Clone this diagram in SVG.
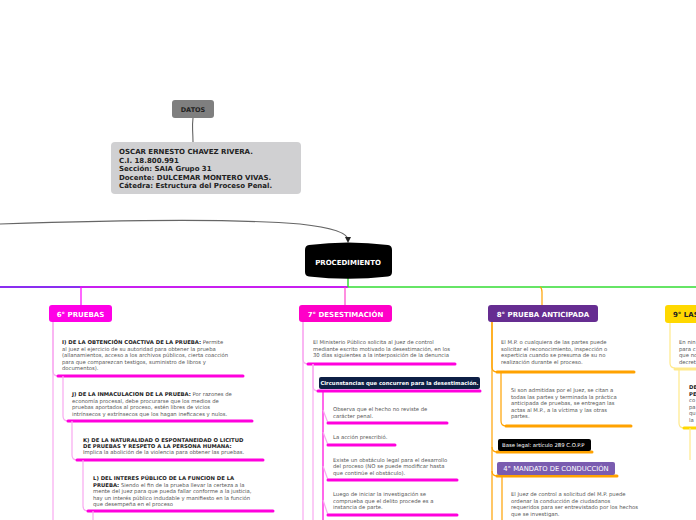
<svg xmlns="http://www.w3.org/2000/svg" width="696" height="520" viewBox="0 0 696 520">
<style>
text{font-family:"DejaVu Sans","Verdana",sans-serif}
.b{font-weight:bold;fill:#222}
.t{font-size:5.3px;fill:#555}
.tb{font-size:5.3px;fill:#222;font-weight:bold}
.hd{font-size:7px;font-weight:bold;fill:#fff}
.ul{fill:none;stroke-width:3;stroke-linecap:round}
.cn{fill:none;stroke-width:1.2}
.pk{stroke:#ff00dd}
.lpk{stroke:#f8a8f0}
.or{stroke:#ffa200}
.yl{stroke:#ffd800}
.lyl{stroke:#ffe98a}
</style>
<defs>
<marker id="arr" markerWidth="6" markerHeight="6" refX="3" refY="3" orient="auto" markerUnits="userSpaceOnUse"><path d="M0,0 L6,3 L0,6 Z" fill="#222"/></marker>
</defs>
<g id="connectors">
<path d="M0,224 C120,220 240,219 300,224 C336,228 348,234 348,240" fill="none" stroke="#666" stroke-width="1.2" marker-end="url(#arr)"/>
<path d="M193,118 C192,126 193,134 193,142" fill="none" stroke="#555" stroke-width="1"/>
<line x1="0" y1="287" x2="80" y2="287" stroke="#8a2ef0" stroke-width="2"/>
<line x1="80" y1="287" x2="348" y2="287" stroke="#c81ff0" stroke-width="2"/>
<line x1="348" y1="287" x2="696" y2="287" stroke="#33dd33" stroke-width="1.5"/>
<line x1="348" y1="278" x2="348" y2="287" stroke="#33dd33" stroke-width="1.5"/>
<line x1="81" y1="287" x2="81" y2="305" stroke="#ff00ff" stroke-width="1.2"/>
<line x1="345" y1="287" x2="345" y2="305" stroke="#ff44cc" stroke-width="1.2"/>
<path d="M540,287 Q542,288 542,292 V305" class="cn or"/>
<path d="M53,322 V520" class="cn lpk"/>
<path d="M53,322 V371 Q53,376 58,376" class="cn lpk"/>
<line x1="58" y1="376" x2="243" y2="376" class="ul pk"/>
<path d="M63,376 V416 Q63,421 68,421" class="cn lpk"/>
<line x1="68" y1="421" x2="252" y2="421" class="ul pk"/>
<path d="M72,421 V455 Q72,460 77,460" class="cn lpk"/>
<line x1="77" y1="460" x2="263" y2="460" class="ul pk"/>
<path d="M83,460 V506 Q83,511 88,511" class="cn lpk"/>
<line x1="88" y1="511" x2="273" y2="511" class="ul pk"/>
<path d="M93,511 V520" class="cn lpk"/>
<path d="M303,322 V520" class="cn lpk"/>
<path d="M303,322 V359 Q303,364 308,364" class="cn lpk"/>
<line x1="308" y1="364" x2="455" y2="364" class="ul pk"/>
<path d="M313,364 V520" class="cn lpk"/>
<path d="M313,364 V386 Q313,391 318,391" class="cn lpk"/>
<line x1="318" y1="391" x2="480" y2="391" class="ul pk"/>
<path d="M323,391 V520" class="cn pk"/>
<path d="M323,410 L328,423" class="cn lpk"/>
<line x1="328" y1="423" x2="447" y2="423" class="ul pk"/>
<path d="M323,432 L328,445" class="cn lpk"/>
<line x1="328" y1="445" x2="395" y2="445" class="ul pk"/>
<path d="M323,466 L328,480" class="cn lpk"/>
<line x1="328" y1="480" x2="457" y2="480" class="ul pk"/>
<path d="M323,500 L328,515" class="cn lpk"/>
<line x1="328" y1="515" x2="457" y2="515" class="ul pk"/>
<path d="M492,322 V520" class="cn or"/>
<path d="M492,322 V367 Q492,372 497,372" class="cn or"/>
<line x1="497" y1="372" x2="634" y2="372" class="ul or"/>
<path d="M501,372 V421 Q501,426 506,426" class="cn or"/>
<line x1="506" y1="426" x2="631" y2="426" class="ul or"/>
<path d="M492,447 Q492,452 497,452" class="cn or"/>
<line x1="497" y1="452" x2="592" y2="452" class="ul or"/>
<path d="M492,471 Q492,476 497,476" class="cn or"/>
<line x1="497" y1="476" x2="617" y2="476" class="ul or"/>
<path d="M502,476 V520" class="cn or"/>
<path d="M670,322 V363 Q670,368 675,368" class="cn lyl"/>
<line x1="675" y1="369" x2="700" y2="369" class="ul lyl" stroke-width="2"/>
<path d="M679,369 V423 Q679,428 684,428" class="cn lyl"/>
<line x1="684" y1="428" x2="700" y2="428" class="ul yl"/>
<path d="M690,428 V460" class="cn lyl"/>
</g>
<g id="datos">
<rect x="172" y="100" width="42" height="18" rx="3" fill="#7f7f7f"/>
<text x="193" y="112" font-size="6.5" class="b" text-anchor="middle">DATOS</text>
</g>
<g id="info">
<rect x="111" y="142" width="190" height="52" rx="4" fill="#d0d0d2"/>
<text x="119" y="154" font-size="7" class="b">OSCAR ERNESTO CHAVEZ RIVERA.</text>
<text x="119" y="162.5" font-size="7" class="b">C.I. 18.800.991</text>
<text x="119" y="171" font-size="7" class="b">Sección: SAIA Grupo 31</text>
<text x="119" y="179.5" font-size="7" class="b">Docente: DULCEMAR MONTERO VIVAS.</text>
<text x="119" y="188" font-size="7" class="b">Cátedra: Estructura del Proceso Penal.</text>
</g>
<g id="procedimiento">
<path d="M309,245 Q348,240 388,245 Q392,245.5 392,250 V272 Q392,276 388,276.5 Q348,281 309,276.5 Q305,276 305,272 V250 Q305,245.5 309,245 Z" fill="#000"/>
<text x="348" y="265" class="hd" font-size="6.8" text-anchor="middle">PROCEDIMIENTO</text>
</g>
<g id="pruebas6">
<rect x="49" y="305" width="63" height="17" rx="3" fill="#ff00e6"/>
<text x="80.5" y="316.5" class="hd" text-anchor="middle">6° PRUEBAS</text>
</g>
<g id="itemI">
<text x="62" y="344" class="t"><tspan class="tb">I) DE LA OBTENCIÓN COACTIVA DE LA PRUEBA:</tspan> Permite</text>
<text x="62" y="350.5" class="t">al juez el ejercicio de su autoridad  para  obtener  la prueba</text>
<text x="62" y="357" class="t">(allanamientos, acceso a los archivos públicos, cierta coacción</text>
<text x="62" y="363.5" class="t">para que comparezcan testigos, suministro de libros y</text>
<text x="62" y="370" class="t">documentos).</text>
</g>
<g id="itemJ">
<text x="72" y="396" class="t"><tspan class="tb">J) DE LA INMACULACION DE LA PRUEBA:</tspan> Por razones de</text>
<text x="72" y="402.5" class="t">economía procesal, debe procurarse que los medios de</text>
<text x="72" y="409" class="t">pruebas aportados al proceso, estén libres de vicios</text>
<text x="72" y="415.5" class="t">intrínsecos y extrínsecos que los hagan ineficaces y nulos.</text>
</g>
<g id="itemK">
<text x="83" y="441.5" class="tb">K) DE LA NATURALIDAD O ESPONTANEIDAD O LICITUD</text>
<text x="83" y="448" class="tb">DE PRUEBAS Y RESPETO A LA PERSONA HUMANA:</text>
<text x="83" y="454" class="t">Implica la abolición de la violencia para obtener las pruebas.</text>
</g>
<g id="itemL">
<text x="93" y="480" class="tb">L) DEL INTERES PÚBLICO DE LA FUNCION DE LA</text>
<text x="93" y="486.5" class="t"><tspan class="tb">PRUEBA:</tspan> Siendo el fin de la prueba llevar la certeza a  la</text>
<text x="93" y="493" class="t">mente del juez para que pueda fallar conforme a la justicia,</text>
<text x="93" y="499.5" class="t">hay  un interés público indudable y manifiesto en  la  función</text>
<text x="93" y="506" class="t">que desempeña en  el proceso</text>
</g>
<g id="desestimacion7">
<rect x="299" y="305" width="93" height="17" rx="3" fill="#ff00c8"/>
<text x="345.5" y="316.5" class="hd" text-anchor="middle">7° DESESTIMACIÓN</text>
</g>
<g id="desest-text">
<text x="313" y="344" class="t">El Ministerio Público solicita al Juez de control</text>
<text x="313" y="350.5" class="t">mediante escrito motivado la desestimación, en los</text>
<text x="313" y="357" class="t">30 días siguientes a la interposición de la denuncia</text>
</g>
<g id="circunstancias">
<rect x="319" y="377" width="161" height="12" rx="2" fill="#0d1f45"/>
<text x="399.5" y="385" font-size="5.3" font-weight="bold" fill="#fff" text-anchor="middle">Circunstancias que concurren para la desestimación.</text>
</g>
<g id="c1">
<text x="333" y="411" class="t">Observa que el hecho no reviste de</text>
<text x="333" y="417.5" class="t">carácter penal.</text>
</g>
<g id="c2">
<text x="333" y="439" class="t">La acción prescribió.</text>
</g>
<g id="c3">
<text x="333" y="461.5" class="t">Existe un obstáculo legal para el desarrollo</text>
<text x="333" y="468" class="t">del proceso (NO se puede modificar hasta</text>
<text x="333" y="474.5" class="t">que continúe el obstáculo).</text>
</g>
<g id="c4">
<text x="333" y="496" class="t">Luego de iniciar la investigación se</text>
<text x="333" y="502.5" class="t">comprueba que el delito procede es a</text>
<text x="333" y="509" class="t">instancia de parte.</text>
</g>
<g id="anticipada8">
<rect x="488" y="305" width="110" height="17" rx="3" fill="#662d91"/>
<text x="543" y="316.5" class="hd" text-anchor="middle">8° PRUEBA ANTICIPADA</text>
</g>
<g id="ant-text">
<text x="501" y="344" class="t">El M.P. o cualquiera de las partes puede</text>
<text x="501" y="350.5" class="t">solicitar el reconocimiento, inspección o</text>
<text x="501" y="357" class="t">experticia cuando se presuma de su no</text>
<text x="501" y="363.5" class="t">realización durante el proceso.</text>
</g>
<g id="ant-child">
<text x="511" y="392" class="t">Si son admitidas por el Juez, se citan a</text>
<text x="511" y="398.5" class="t">todas las partes y terminada la práctica</text>
<text x="511" y="405" class="t">anticipada de pruebas, se entregan las</text>
<text x="511" y="411.5" class="t">actas al M.P., a la víctima y las otras</text>
<text x="511" y="418" class="t">partes.</text>
</g>
<g id="baselegal">
<rect x="498" y="439" width="93" height="12" rx="2" fill="#000"/>
<text x="502" y="447" font-size="5.3" fill="#fff">Base legal: artículo 289 C.O.P.P</text>
</g>
<g id="mandato4">
<rect x="497" y="462" width="118" height="13" rx="2" fill="#7a5cb0"/>
<text x="556" y="471" font-size="6.8" fill="#fff" text-anchor="middle">4° MANDATO DE CONDUCCIÓN</text>
</g>
<g id="mandato-text">
<text x="511" y="496" class="t">El Juez de control a solicitud del M.P. puede</text>
<text x="511" y="502.5" class="t">ordenar la conducción de ciudadanos</text>
<text x="511" y="509" class="t">requeridos para ser entrevistado por los hechos</text>
<text x="511" y="515.5" class="t">que se investigan.</text>
</g>
<g id="las9">
<rect x="665" y="305" width="40" height="18" rx="3" fill="#ffd800"/>
<text x="673" y="316.5" font-size="7" font-weight="bold" fill="#222">9° LAS</text>
</g>
<g id="las9-text">
<text x="679" y="344" class="t">En nin</text>
<text x="679" y="350.5" class="t">para c</text>
<text x="679" y="357" class="t">que no</text>
<text x="679" y="363.5" class="t">decret</text>
</g>
<g id="las9-child">
<text x="689" y="389" class="tb">DE</text>
<text x="689" y="395.5" class="tb">PE</text>
<text x="689" y="402" class="t">co</text>
<text x="689" y="408.5" class="t">pa</text>
<text x="689" y="415" class="t">qu</text>
<text x="689" y="421.5" class="t">la</text>
</g>
</svg>
